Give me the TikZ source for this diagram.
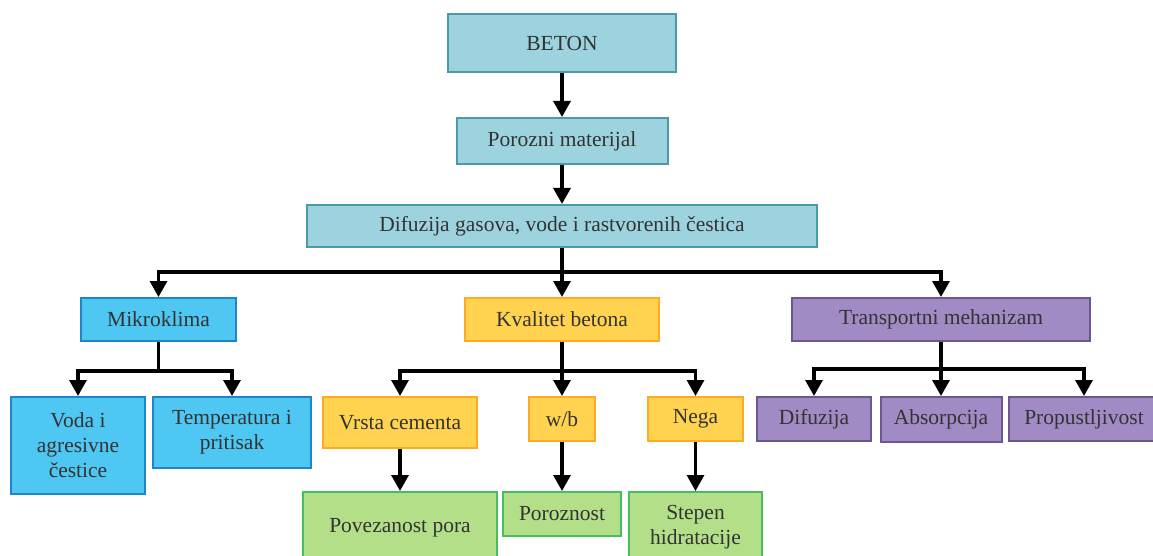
\documentclass[tikz,border=0pt]{standalone}
\usepackage{fontspec}
\setmainfont{Liberation Serif}
\usepackage{tikz}
\usetikzlibrary{arrows.meta}
\usetikzlibrary{positioning}
\definecolor{textgray}{HTML}{333333}
\definecolor{tealfill}{HTML}{9DD3DF}
\definecolor{tealline}{HTML}{4A9AAA}
\definecolor{skyfill}{HTML}{4EC7F3}
\definecolor{skyline}{HTML}{1C86C6}
\definecolor{goldfill}{HTML}{FFD34F}
\definecolor{goldline}{HTML}{FFAA22}
\definecolor{violetfill}{HTML}{A08BC5}
\definecolor{violetline}{HTML}{6A5690}
\definecolor{greenfill}{HTML}{B3DF88}
\definecolor{greenline}{HTML}{45BE5E}
\tikzstyle{box} = [
    rectangle, 
    text=textgray, 
    font=\fontsize{21.5}{25}\selectfont, 
    line width=2pt, 
    align=center, 
    inner sep=0pt
]
\tikzstyle{teal_box} = [box, draw=tealline, fill=tealfill]
\tikzstyle{sky_box} = [box, draw=skyline, fill=skyfill]
\tikzstyle{gold_box} = [box, draw=goldline, fill=goldfill]
\tikzstyle{violet_box} = [box, draw=violetline, fill=violetfill]
\tikzstyle{green_box} = [box, draw=greenline, fill=greenfill]
\tikzstyle{link} = [
    draw=black, 
    line width=3.2pt, 
    -{Triangle[width=17pt, length=16pt]}
]

\begin{document}
\begin{tikzpicture}[x=1pt, y=-1pt]
\useasboundingbox (0,0) rectangle (1153,556);
\clip (0,0) rectangle (1153,556);

% top chain
\node [teal_box, minimum width=228pt, minimum height=58pt] (beton) at (562,43) {BETON};
\node [teal_box, minimum width=211pt, minimum height=46pt] (porozni) at (562,141) {Porozni materijal};
\node [teal_box, minimum width=510pt, minimum height=42pt] (difuzija) at (562,226) {Difuzija gasova, vode i rastvorenih čestica};

% second level
\node [sky_box, minimum width=155pt, minimum height=43pt] (mikro) at (158.5,319.5) {Mikroklima};
\node [gold_box, minimum width=194pt, minimum height=43pt] (kvalitet) at (562,319.5) {Kvalitet betona};
\node [violet_box, minimum width=298pt, minimum height=43pt] (transport) at (941,319.5) {Transportni mehanizam};

% third level
\node [sky_box, minimum width=134pt, minimum height=97pt] (voda) at (78,445.5) {Voda i\\agresivne\\čestice};
\node [sky_box, minimum width=158pt, minimum height=71pt] (temp) at (232,432.5) {Temperatura i\\pritisak};
\node [gold_box, minimum width=154pt, minimum height=51pt] (vrsta) at (400,422.5) {Vrsta cementa};
\node [gold_box, minimum width=66pt, minimum height=44pt] (wb) at (562,419) {w/b};
\node [gold_box, minimum width=95pt, minimum height=44pt] (nega) at (695.5,419) {Nega};
\node [violet_box, minimum width=114pt, minimum height=44pt] (difz) at (814,419) {Difuzija};
\node [violet_box, minimum width=121pt, minimum height=45pt] (absorp) at (941,419.5) {Absorpcija};
\node [violet_box, minimum width=150pt, minimum height=44pt] (propust) at (1084,419) {Propustljivost};

% fourth level
\node [green_box, minimum width=194pt, minimum height=71pt] (povez) at (400,527.5) {Povezanost pora};
\node [green_box, minimum width=118pt, minimum height=44pt] (poroz) at (562,514) {Poroznost};
\node [green_box, minimum width=133pt, minimum height=71pt] (stepen) at (695.5,527.5) {Stepen\\hidratacije};

\draw [link] (beton) -- (porozni);
\draw [link] (porozni) -- (difuzija);

\draw [link] (difuzija.south) -- ++(0,24) -| (mikro.north);
\draw [link] (difuzija.south) -- (kvalitet.north);
\draw [link] (difuzija.south) -- ++(0,24) -| (transport.north);

\draw [link] (mikro.south) -- ++(0,29) -| (voda.north);
\draw [link] (mikro.south) -- ++(0,29) -| (temp.north);

\draw [link] (kvalitet.south) -- ++(0,29) -| (vrsta.north);
\draw [link] (kvalitet.south) -- (wb.north);
\draw [link] (kvalitet.south) -- ++(0,29) -| (nega.north);

\draw [link] (transport.south) -- ++(0,27) -| (difz.north);
\draw [link] (transport.south) -- (absorp.north);
\draw [link] (transport.south) -- ++(0,27) -| (propust.north);

\draw [link] (vrsta) -- (povez);
\draw [link] (wb) -- (poroz);
\draw [link] (nega) -- (stepen);
\end{tikzpicture}
\end{document}
